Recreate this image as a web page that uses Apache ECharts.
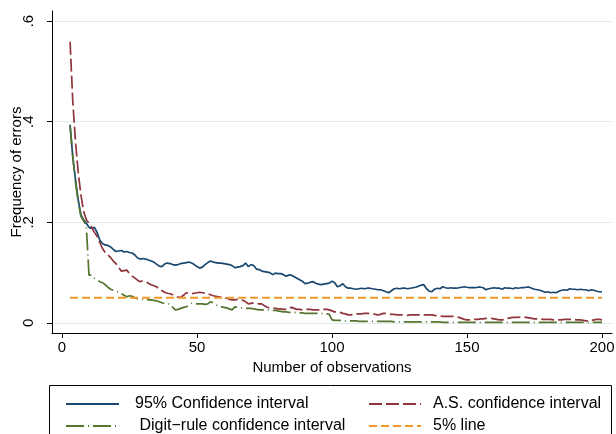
<!DOCTYPE html>
<html>
<head>
<meta charset="UTF-8">
<title>Frequency of errors</title>
<script src="https://cdn.jsdelivr.net/npm/echarts@6/dist/echarts.min.js"></script>
<style>
html,body{margin:0;padding:0;background:#fff}
#chart{width:616px;height:434px}
</style>
</head>
<body>
<div id="chart"></div>
<script>
// observations run from 3 to 200, one value per n
var firstObs = 3;
var ci95 = [
  .394,.33,.285,.245,.215,.205,.198,.19,.188,.19,
  .18,.165,.158,.155,.154,.151,.146,.142,.143,.144,
  .141,.142,.14,.139,.135,.129,.127,.128,.127,.125,
  .123,.121,.117,.113,.112,.117,.119,.118,.116,.115,
  .116,.118,.119,.12,.121,.119,.116,.112,.109,.111,
  .116,.12,.123,.121,.12,.119,.119,.118,.117,.116,
  .114,.11,.111,.112,.114,.119,.112,.116,.114,.107,
  .106,.103,.102,.101,.1,.096,.099,.098,.098,.096,
  .093,.095,.095,.092,.089,.086,.083,.078,.079,.081,
  .082,.079,.077,.076,.077,.078,.079,.083,.08,.072,
  .074,.078,.072,.069,.069,.068,.067,.068,.069,.068,
  .069,.069,.068,.067,.066,.066,.064,.062,.06,.064,
  .068,.069,.068,.069,.069,.068,.069,.07,.071,.073,
  .075,.076,.068,.063,.062,.067,.069,.068,.072,.07,
  .069,.07,.069,.069,.07,.071,.072,.071,.07,.07,
  .07,.071,.071,.07,.066,.068,.069,.07,.069,.069,
  .067,.07,.069,.069,.068,.07,.069,.07,.07,.071,
  .071,.069,.067,.066,.065,.063,.061,.062,.06,.061,
  .06,.063,.065,.066,.065,.068,.067,.067,.066,.067,
  .066,.066,.064,.066,.065,.063,.062,.062
];
var ciAS = [
  .559,.44,.36,.3,.255,.222,.205,.198,.19,.18,
  .172,.16,.148,.14,.135,.13,.123,.118,.11,.103,
  .104,.105,.098,.093,.089,.085,.082,.084,.082,.079,
  .076,.074,.072,.067,.064,.061,.059,.058,.056,.053,
  .051,.051,.055,.06,.059,.058,.059,.06,.061,.06,
  .059,.058,.056,.054,.053,.052,.051,.05,.049,.047,
  .046,.046,.047,.046,.045,.042,.038,.039,.04,.039,
  .038,.038,.034,.031,.03,.03,.029,.028,.028,.027,
  .027,.029,.031,.029,.027,.027,.026,.026,.027,.027,
  .026,.026,.026,.026,.027,.027,.026,.024,.022,.022,
  .021,.019,.018,.016,.016,.017,.018,.018,.018,.019,
  .019,.019,.018,.017,.016,.017,.019,.019,.018,.017,
  .017,.016,.016,.016,.015,.015,.016,.016,.016,.016,
  .016,.016,.016,.016,.016,.015,.014,.014,.013,.013,
  .013,.013,.013,.012,.011,.009,.007,.006,.006,.007,
  .007,.007,.008,.008,.009,.009,.009,.008,.007,.006,
  .006,.007,.009,.01,.011,.011,.011,.012,.011,.011,
  .01,.009,.008,.008,.008,.007,.007,.007,.007,.006,
  .006,.006,.006,.007,.007,.007,.007,.006,.006,.006,
  .005,.004,.004,.005,.006,.007,.007,.006
];
var ciDigit = [
  .39,.33,.28,.24,.212,.203,.193,.095,.095,.089,
  .086,.082,.08,.076,.071,.067,.065,.063,.061,.058,
  .055,.052,.054,.053,.05,.048,.047,.047,.047,.046,
  .046,.045,.044,.042,.04,.039,.038,.038,.031,.026,
  .027,.029,.031,.032,.035,.039,.039,.038,.038,.038,
  .037,.038,.042,.04,.036,.033,.032,.031,.03,.028,
  .026,.032,.031,.03,.03,.029,.029,.029,.028,.027,
  .026,.026,.026,.026,.026,.025,.025,.024,.023,.022,
  .022,.021,.021,.021,.02,.02,.02,.019,.019,.019,
  .019,.019,.019,.019,.018,.018,.017,.006,.005,.005,
  .005,.005,.004,.004,.004,.004,.004,.003,.003,.003,
  .003,.003,.003,.003,.003,.003,.003,.003,.003,.003,
  .002,.002,.002,.002,.002,.002,.002,.002,.002,.002,
  .002,.002,.002,.002,.002,.002,.002,.002,.001,.001,
  .001,.001,.001,.001,.001,.001,.001,.001,.001,.001,
  .001,.001,.001,.001,.001,.001,.001,.001,.001,.001,
  .001,.001,.001,.001,.001,.001,.001,.001,.001,.001,
  .001,.001,.001,.001,.001,.001,.001,.001,.001,.001,
  .001,.001,.001,.001,.001,.001,.001,.001,.001,.001,
  .001,.001,.001,.001,.001,.001,.001,.001
];
var fivePct = [[3, 0.05], [200, 0.05]];
var xTicks = [0, 50, 100, 150, 200];
var yTicks = [0, 0.2, 0.4, 0.6];
var names = ['95% Confidence interval', 'A.S. confidence interval', ' Digit\u2212rule confidence interval', '5% line'];

function pairs(arr){
  var out = [];
  for (var i = 0; i < arr.length; i++) out.push([firstObs + i, arr[i]]);
  return out;
}

var font = 'Liberation Sans, Arial, Helvetica, sans-serif';
var chart = echarts.init(document.getElementById('chart'), null, {renderer: 'canvas'});

var option = {
  animation: false,
  textStyle: {fontFamily: font},
  grid: [
    {left: 52, right: 4, top: 11, bottom: 101, outerBoundsMode: 'none', containLabel: false},
    {left: 52, right: 4, top: 21, bottom: 111, outerBoundsMode: 'none', containLabel: false}
  ],
  xAxis: [
    {
      type: 'value', gridIndex: 0, min: -3.7, max: 203.7, scale: true,
      name: 'Number of observations', nameLocation: 'middle', nameGap: 27,
      nameTextStyle: {fontSize: 15, color: '#000', fontFamily: font},
      axisLine: {show: true, onZero: false, lineStyle: {color: '#000', width: 1}},
      axisTick: {show: true, length: 5, customValues: xTicks, lineStyle: {color: '#000'}},
      axisLabel: {customValues: xTicks, fontSize: 15, color: '#000', margin: 7, fontFamily: font},
      splitLine: {show: false}
    },
    {type: 'value', gridIndex: 1, min: 0, max: 1, show: false}
  ],
  yAxis: [
    {
      type: 'value', gridIndex: 0, min: -0.02, max: 0.62, scale: true,
      name: 'Frequency of errors', nameLocation: 'middle', nameGap: 28, nameRotate: 90,
      nameMoveOverlap: false,
      nameTextStyle: {fontSize: 15, color: '#000', fontFamily: font},
      axisLine: {show: true, onZero: false, lineStyle: {color: '#000', width: 1}},
      axisTick: {show: true, length: 5, customValues: yTicks, lineStyle: {color: '#000'}},
      axisLabel: {
        customValues: yTicks, rotate: 90, fontSize: 15, color: '#000', margin: 16, fontFamily: font,
        formatter: function(v){ return v === 0 ? '0' : String(+v.toFixed(1)).replace(/^0/, ''); }
      },
      splitLine: {show: false}
    },
    {
      type: 'value', gridIndex: 1, min: 0, max: 0.6, interval: 0.2,
      axisLine: {show: false}, axisTick: {show: false}, axisLabel: {show: false},
      splitLine: {show: true, lineStyle: {color: '#e1eaed', width: 1}}
    }
  ],
  legend: [
    {
      data: [names[0], names[2]], orient: 'vertical', left: 65, top: 396, width: 280, height: 60, padding: 0,
      itemWidth: 53, itemHeight: 14, itemGap: 6,
      itemStyle: {opacity: 0},
      textStyle: {fontSize: 16, color: '#000', fontFamily: font, padding: [0, 0, 0, 11]}
    },
    {
      data: [names[1], names[3]], orient: 'vertical', left: 368, top: 396, width: 240, height: 60, padding: 0,
      itemWidth: 52, itemHeight: 14, itemGap: 6,
      itemStyle: {opacity: 0},
      textStyle: {fontSize: 16, color: '#000', fontFamily: font, padding: [0, 0, 0, 7]}
    }
  ],
  graphic: [{
    type: 'rect', silent: true,
    shape: {x: 49.5, y: 385.5, width: 562, height: 60},
    style: {fill: 'none', stroke: '#000', lineWidth: 1}
  }],
  series: [
    {
      name: names[0], type: 'line', symbol: 'none', data: pairs(ci95),
      color: '#1a476f', lineStyle: {color: '#1a476f', width: 1.7}
    },
    {
      name: names[1], type: 'line', symbol: 'none', data: pairs(ciAS),
      color: '#90353b', lineStyle: {color: '#90353b', width: 1.7, type: [13, 4]}
    },
    {
      name: names[2], type: 'line', symbol: 'none', data: pairs(ciDigit),
      color: '#55752f', lineStyle: {color: '#55752f', width: 1.7, type: [18, 4, 1, 4]}
    },
    {
      name: names[3], type: 'line', symbol: 'none', data: fivePct,
      color: '#f0982a', lineStyle: {color: '#f0982a', width: 2, type: [8, 4]}
    }
  ]
};
chart.setOption(option);
</script>
</body>
</html>
